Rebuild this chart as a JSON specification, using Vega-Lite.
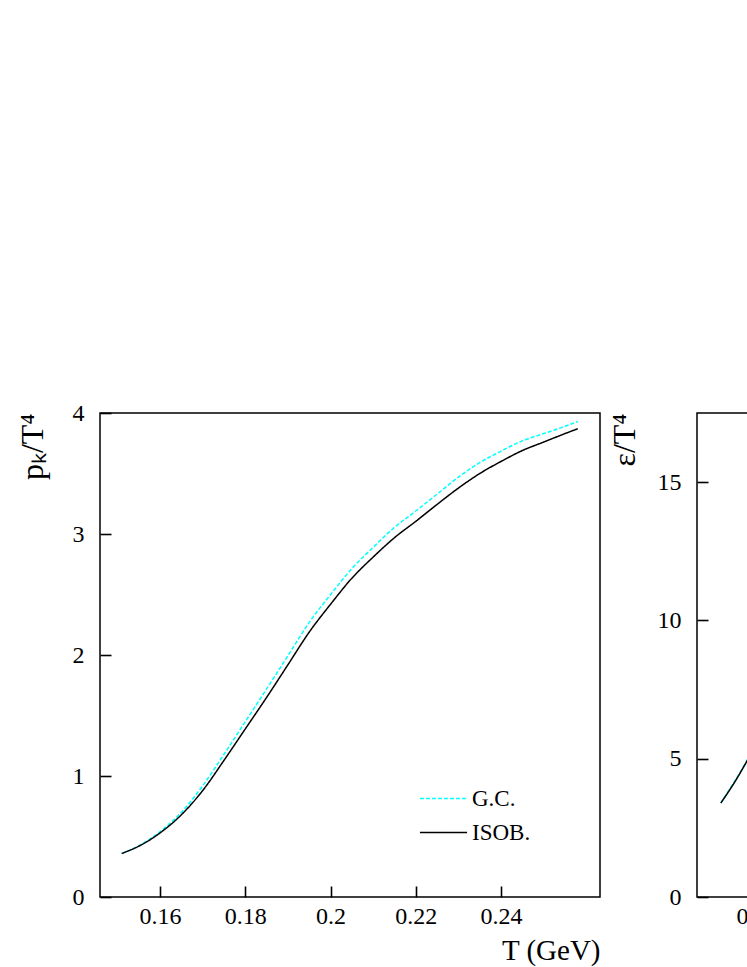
{
  "$schema": "https://vega.github.io/schema/vega-lite/v6.json",
  "background": "white",
  "padding": {"top": 400, "left": 15, "right": 5, "bottom": 5},
  "bounds": "flush",
  "spacing": 97,
  "config": {
    "font": "Liberation Serif",
    "view": {"stroke": "black", "strokeWidth": 1.5},
    "axis": {
      "domain": false, "grid": false, "offset": -11, "zindex": 1,
      "tickColor": "black", "tickSize": 11, "tickWidth": 1.6, "tickOpacity": 1,
      "labelFont": "Liberation Serif", "labelFontSize": 24, "labelColor": "black",
      "titleFont": "Liberation Serif", "titleFontWeight": "normal", "titleColor": "black"
    },
    "axisX": {"labelPadding": 7, "titlePadding": 8},
    "axisY": {"labelPadding": 16, "titlePadding": 23},
    "legend": {
      "labelFont": "Liberation Serif", "labelFontSize": 23, "labelColor": "black"
    }
  },
  "datasets": {
    "pk": [
      {"T": 0.151, "v": 0.36, "model": "G.C."}, {"T": 0.155, "v": 0.423, "model": "G.C."},
      {"T": 0.16, "v": 0.54, "model": "G.C."}, {"T": 0.165, "v": 0.70, "model": "G.C."},
      {"T": 0.17, "v": 0.92, "model": "G.C."}, {"T": 0.175, "v": 1.18, "model": "G.C."},
      {"T": 0.18, "v": 1.45, "model": "G.C."}, {"T": 0.185, "v": 1.72, "model": "G.C."},
      {"T": 0.19, "v": 1.995, "model": "G.C."}, {"T": 0.195, "v": 2.27, "model": "G.C."},
      {"T": 0.2, "v": 2.50, "model": "G.C."}, {"T": 0.205, "v": 2.715, "model": "G.C."},
      {"T": 0.21, "v": 2.89, "model": "G.C."}, {"T": 0.215, "v": 3.055, "model": "G.C."},
      {"T": 0.22, "v": 3.19, "model": "G.C."}, {"T": 0.225, "v": 3.33, "model": "G.C."},
      {"T": 0.23, "v": 3.47, "model": "G.C."}, {"T": 0.235, "v": 3.59, "model": "G.C."},
      {"T": 0.24, "v": 3.685, "model": "G.C."}, {"T": 0.245, "v": 3.77, "model": "G.C."},
      {"T": 0.25, "v": 3.83, "model": "G.C."}, {"T": 0.255, "v": 3.89, "model": "G.C."},
      {"T": 0.258, "v": 3.93, "model": "G.C."},
      {"T": 0.151, "v": 0.36, "model": "ISOB."}, {"T": 0.155, "v": 0.42, "model": "ISOB."},
      {"T": 0.16, "v": 0.53, "model": "ISOB."}, {"T": 0.165, "v": 0.68, "model": "ISOB."},
      {"T": 0.17, "v": 0.88, "model": "ISOB."}, {"T": 0.175, "v": 1.13, "model": "ISOB."},
      {"T": 0.18, "v": 1.39, "model": "ISOB."}, {"T": 0.185, "v": 1.65, "model": "ISOB."},
      {"T": 0.19, "v": 1.92, "model": "ISOB."}, {"T": 0.195, "v": 2.19, "model": "ISOB."},
      {"T": 0.2, "v": 2.42, "model": "ISOB."}, {"T": 0.205, "v": 2.635, "model": "ISOB."},
      {"T": 0.21, "v": 2.81, "model": "ISOB."}, {"T": 0.215, "v": 2.97, "model": "ISOB."},
      {"T": 0.22, "v": 3.105, "model": "ISOB."}, {"T": 0.225, "v": 3.245, "model": "ISOB."},
      {"T": 0.23, "v": 3.38, "model": "ISOB."}, {"T": 0.235, "v": 3.50, "model": "ISOB."},
      {"T": 0.24, "v": 3.60, "model": "ISOB."}, {"T": 0.245, "v": 3.69, "model": "ISOB."},
      {"T": 0.25, "v": 3.76, "model": "ISOB."}, {"T": 0.255, "v": 3.83, "model": "ISOB."},
      {"T": 0.258, "v": 3.87, "model": "ISOB."}
    ],
    "eps": [
      {"T": 0.1515, "v": 3.4, "model": "G.C."}, {"T": 0.155, "v": 4.25, "model": "G.C."},
      {"T": 0.1575, "v": 4.9, "model": "G.C."}, {"T": 0.16, "v": 5.6, "model": "G.C."},
      {"T": 0.165, "v": 7.1, "model": "G.C."}, {"T": 0.17, "v": 8.7, "model": "G.C."},
      {"T": 0.175, "v": 10.1, "model": "G.C."}, {"T": 0.18, "v": 11.4, "model": "G.C."},
      {"T": 0.19, "v": 13.1, "model": "G.C."}, {"T": 0.2, "v": 14.1, "model": "G.C."},
      {"T": 0.21, "v": 14.7, "model": "G.C."}, {"T": 0.22, "v": 15.1, "model": "G.C."},
      {"T": 0.23, "v": 15.35, "model": "G.C."}, {"T": 0.24, "v": 15.5, "model": "G.C."},
      {"T": 0.25, "v": 15.6, "model": "G.C."}, {"T": 0.258, "v": 15.65, "model": "G.C."},
      {"T": 0.1515, "v": 3.4, "model": "ISOB."}, {"T": 0.155, "v": 4.22, "model": "ISOB."},
      {"T": 0.1575, "v": 4.88, "model": "ISOB."}, {"T": 0.16, "v": 5.55, "model": "ISOB."},
      {"T": 0.165, "v": 7.0, "model": "ISOB."}, {"T": 0.17, "v": 8.5, "model": "ISOB."},
      {"T": 0.175, "v": 9.9, "model": "ISOB."}, {"T": 0.18, "v": 11.1, "model": "ISOB."},
      {"T": 0.19, "v": 12.8, "model": "ISOB."}, {"T": 0.2, "v": 13.8, "model": "ISOB."},
      {"T": 0.21, "v": 14.4, "model": "ISOB."}, {"T": 0.22, "v": 14.8, "model": "ISOB."},
      {"T": 0.23, "v": 15.05, "model": "ISOB."}, {"T": 0.24, "v": 15.2, "model": "ISOB."},
      {"T": 0.25, "v": 15.3, "model": "ISOB."}, {"T": 0.258, "v": 15.35, "model": "ISOB."}
    ]
  },
  "resolve": {"scale": {"color": "independent", "strokeDash": "independent"}},
  "hconcat": [
    {
      "width": 500, "height": 484,
      "layer": [
        {
          "data": {"name": "pk"},
          "mark": {"type": "line", "strokeWidth": 1.5, "interpolate": "monotone"},
          "encoding": {
            "x": {"field": "T", "type": "quantitative",
                  "scale": {"domain": [0.1459, 0.2632], "nice": false, "zero": false},
                  "axis": {"values": [0.16, 0.18, 0.2, 0.22, 0.24], "format": "~g", "title": "T (GeV)",
                           "titleFontSize": 29, "titleAnchor": "end", "titleAlign": "right"}},
            "y": {"field": "v", "type": "quantitative",
                  "scale": {"domain": [0, 4], "nice": false},
                  "axis": {"values": [0, 1, 2, 3, 4], "format": "~g", "title": "pₖ/T⁴", "titleFontSize": 32,
                           "titleAnchor": "end", "titleAlign": "right"}},
            "color": {"field": "model", "type": "nominal",
                      "scale": {"domain": ["G.C.", "ISOB."], "range": ["#00ffff", "black"]},
                      "legend": {"title": null, "orient": "none", "legendX": 324, "legendY": 366, "labelOffset": 9,
                                 "symbolType": "M-1.26,0H1.26", "symbolFillColor": "transparent", "symbolSize": 1400, "symbolStrokeWidth": 1.5}},
            "strokeDash": {"field": "model", "type": "nominal",
                           "scale": {"domain": ["G.C.", "ISOB."], "range": [[4, 2], [1, 0]]},
                           "legend": {"title": null, "orient": "none", "legendX": 324, "legendY": 366, "labelOffset": 9,
                                      "symbolType": "M-1.26,0H1.26", "symbolFillColor": "transparent", "symbolSize": 1400, "symbolStrokeWidth": 1.5}}
          }
        },
        {
          "mark": {"type": "text", "text": "(a)", "fontSize": 23, "font": "Liberation Serif", "align": "center", "baseline": "middle"},
          "encoding": {"x": {"datum": 0.1543}, "y": {"datum": 3.78}}
        }
      ]
    },
    {
      "width": 500, "height": 484,
      "layer": [
        {
          "data": {"name": "eps"},
          "mark": {"type": "line", "strokeWidth": 1.5, "interpolate": "monotone"},
          "encoding": {
            "x": {"field": "T", "type": "quantitative",
                  "scale": {"domain": [0.1459, 0.2632], "nice": false, "zero": false},
                  "axis": {"values": [0.16, 0.18, 0.2, 0.22, 0.24], "format": "~g", "title": "T (GeV)",
                           "titleFontSize": 29, "titleAnchor": "end", "titleAlign": "right"}},
            "y": {"field": "v", "type": "quantitative",
                  "scale": {"domain": [0, 17.5], "nice": false},
                  "axis": {"values": [0, 5, 10, 15], "format": "~g", "title": "ε/T⁴", "titleFontSize": 32,
                           "titleAnchor": "end", "titleAlign": "right", "titlePadding": 16}},
            "color": {"field": "model", "type": "nominal",
                      "scale": {"domain": ["G.C.", "ISOB."], "range": ["#00ffff", "black"]}, "legend": null},
            "strokeDash": {"field": "model", "type": "nominal",
                           "scale": {"domain": ["G.C.", "ISOB."], "range": [[4, 2], [1, 0]]}, "legend": null}
          }
        },
        {
          "mark": {"type": "text", "text": "(b)", "fontSize": 23, "font": "Liberation Serif", "align": "center", "baseline": "middle"},
          "encoding": {"x": {"datum": 0.1546}, "y": {"datum": 16.5}}
        }
      ]
    }
  ]
}
